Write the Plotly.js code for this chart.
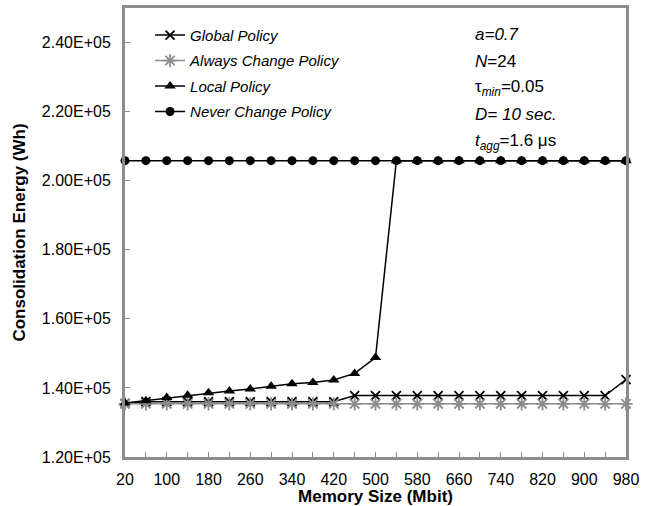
<!DOCTYPE html>
<html>
<head>
<meta charset="utf-8">
<script src="https://cdn.plot.ly/plotly-3.0.1.min.js"></script>
<style>html,body{margin:0;padding:0;background:#fff;}#chart{width:653px;height:506px;}</style>
</head>
<body>
<div id="chart"></div>
<script>
const memorySize = [20,60,100,140,180,220,260,300,340,380,420,460,500,540,580,620,660,700,740,780,820,860,900,940,980];
const globalPolicy = [135500,136000,136000,136000,136000,136000,136000,136000,136000,136000,136000,137800,137800,137800,137800,137800,137800,137800,137800,137800,137800,137800,137800,137800,142400];
const alwaysChangePolicy = [135400,135400,135400,135400,135400,135400,135400,135400,135400,135400,135400,135400,135400,135400,135400,135400,135400,135400,135400,135400,135400,135400,135400,135400,135400];
const localPolicy = [135600,136300,137200,137900,138600,139100,139700,140500,141200,141600,142300,144200,148800,205800,205800,205800,205800,205800,205800,205800,205800,205800,205800,205800,205800];
const neverChangePolicy = [205800,205800,205800,205800,205800,205800,205800,205800,205800,205800,205800,205800,205800,205800,205800,205800,205800,205800,205800,205800,205800,205800,205800,205800,205800];
const yTickVals = [120000,140000,160000,180000,200000,220000,240000];
const yTickText = ["1.20E+05","1.40E+05","1.60E+05","1.80E+05","2.00E+05","2.20E+05","2.40E+05"];
const xTickVals = [20,100,180,260,340,420,500,580,660,740,820,900,980];
const seriesNames = ["Global Policy","Always Change Policy","Local Policy","Never Change Policy"];

const FONT = "Arial, 'Liberation Sans', Helvetica, sans-serif";

const traces = [
  {x: memorySize, y: globalPolicy, name: seriesNames[0], mode: 'lines+markers', legendgroup: 'g1',
   line: {color: '#000', width: 1.5}, marker: {symbol: 'x-thin-open', size: 9, color: '#000', line: {width: 1.8, color: '#000'}}, cliponaxis: false},
  {x: memorySize, y: alwaysChangePolicy, name: seriesNames[1], mode: 'lines+markers', legendgroup: 'g2',
   line: {color: '#8c8c8c', width: 1.5}, marker: {symbol: 'asterisk-open', size: 11, color: '#8c8c8c', line: {width: 1.8, color: '#8c8c8c'}}, cliponaxis: false},
  {x: memorySize, y: localPolicy, name: seriesNames[2], mode: 'lines+markers', legendgroup: 'g3',
   line: {color: '#000', width: 1.5}, marker: {symbol: 'triangle-up', size: 10, color: '#000'}, cliponaxis: false},
  {x: memorySize, y: neverChangePolicy, name: seriesNames[3], mode: 'lines+markers', legendgroup: 'g4',
   line: {color: '#000', width: 1.5}, marker: {symbol: 'circle', size: 9, color: '#000'}, cliponaxis: false}
];

const ann = (txt, y) => ({text: txt, xref: 'paper', yref: 'paper', x: 0.694, y: y, xanchor: 'left', yanchor: 'middle',
  showarrow: false, font: {family: FONT, size: 17, color: '#000'}});

const layout = {
  width: 653, height: 506,
  margin: {l: 125, r: 27, t: 8, b: 49},
  paper_bgcolor: '#fff', plot_bgcolor: '#fff',
  font: {family: FONT, color: '#000'},
  showlegend: true,
  legend: {x: 0.05, y: 0.976, xanchor: 'left', yanchor: 'top', bgcolor: 'rgba(0,0,0,0)',
    font: {family: FONT, size: 15, style: 'italic', color: '#000'}, traceorder: 'grouped', tracegroupgap: 3},
  xaxis: {range: [20, 980], tickmode: 'array', tickvals: xTickVals, ticks: 'inside', ticklen: 5, tickcolor: '#8c8c8c', tickwidth: 1,
    minor: {tickmode: 'array', tickvals: memorySize, ticks: 'inside', ticklen: 5, tickcolor: '#8c8c8c', tickwidth: 1},
    ticklabelstandoff: 6,
    showgrid: false, zeroline: false, showline: true, linecolor: '#8c8c8c', linewidth: 3, mirror: true,
    tickfont: {family: FONT, size: 16, color: '#000'},
    title: {text: 'Memory Size (Mbit)', font: {family: FONT, size: 17, weight: 'bold', color: '#000'}, standoff: 2}},
  yaxis: {range: [120000, 250000], tickmode: 'array', tickvals: yTickVals, ticktext: yTickText, ticks: 'inside', ticklen: 5,
    tickcolor: '#8c8c8c', tickwidth: 1, ticklabelstandoff: 8,
    showgrid: false, zeroline: false, showline: true, linecolor: '#8c8c8c', linewidth: 3, mirror: true,
    tickfont: {family: FONT, size: 16, color: '#000'},
    title: {text: 'Consolidation Energy (Wh)', font: {family: FONT, size: 17, weight: 'bold', color: '#000'}, standoff: 12}},
  annotations: [
    ann('<i>a=0.7</i>', 0.940),
    ann('<i>N</i>=24', 0.880),
    ann('τ<sub><i>min</i></sub>=0.05', 0.822),
    ann('<i>D= 10 sec.</i>', 0.762),
    ann('<i>t<sub>agg</sub></i>=1.6 μs', 0.702)
  ]
};

Plotly.newPlot('chart', traces, layout, {displayModeBar: false, staticPlot: true});
</script>
</body>
</html>
